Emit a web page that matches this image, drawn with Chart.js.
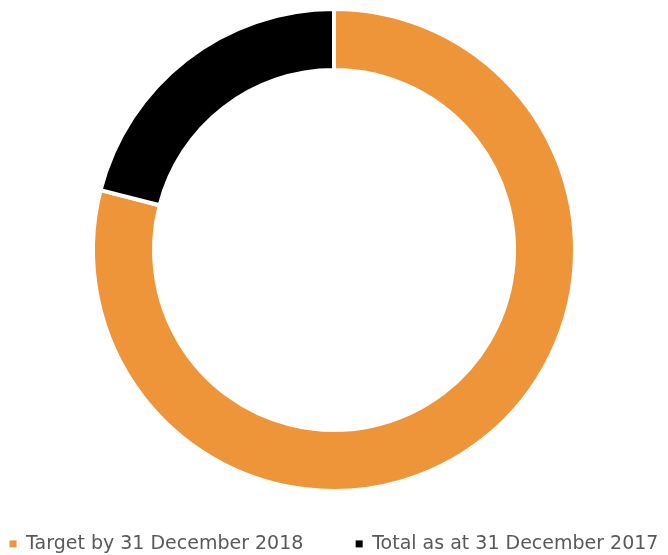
<!DOCTYPE html>
<html>
<head>
<meta charset="utf-8">
<script src="https://cdn.jsdelivr.net/npm/chart.js@4"></script>
<style>
  html, body { margin: 0; padding: 0; background: #fff; }
  #wrap { width: 668px; height: 555px; }
</style>
</head>
<body>
<div id="wrap"><canvas id="donut"></canvas></div>
<script>
// chart data
const labels = ["Target by 31 December 2018", "Total as at 31 December 2017"];
const values = [79, 21];
const colours = ["#ED9538", "#000000"];

// fixed-height legend box under the ring
const legendBox = {
  id: "legendBox",
  beforeInit(chart) {
    const fit = chart.legend.fit;
    chart.legend.fit = function () {
      fit.bind(chart.legend)();
      this.height = 62;
    };
  }
};

new Chart(document.querySelector("#donut"), {
  type: "doughnut",
  data: {
    labels,
    datasets: [
      {
        data: values,
        backgroundColor: colours,
        borderColor: "#ffffff",
        borderWidth: 4
      }
    ]
  },
  options: {
    responsive: true,
    maintainAspectRatio: false,
    animation: false,
    cutout: "74.7%",
    layout: { padding: { top: 7, bottom: 0 } },
    events: [],
    plugins: {
      tooltip: { enabled: false },
      legend: {
        position: "bottom",
        // empty title only used as a spacer above the items
        title: { display: true, text: "", padding: { top: 23, bottom: 0 } },
        labels: {
          boxWidth: 7,
          boxHeight: 7,
          padding: 4,
          color: "#595959",
          font: { family: "DejaVu Sans", size: 19 },
          // legend boxes without the white slice border, wider gap after item 1
          generateLabels(chart) {
            const items = Chart.overrides.doughnut.plugins.legend.labels.generateLabels(chart);
            items.forEach((item, i) => {
              item.lineWidth = 0;
              if (i === 0) item.text = item.text + "        ";
            });
            return items;
          }
        }
      }
    }
  },
  plugins: [legendBox]
});
</script>
</body>
</html>
